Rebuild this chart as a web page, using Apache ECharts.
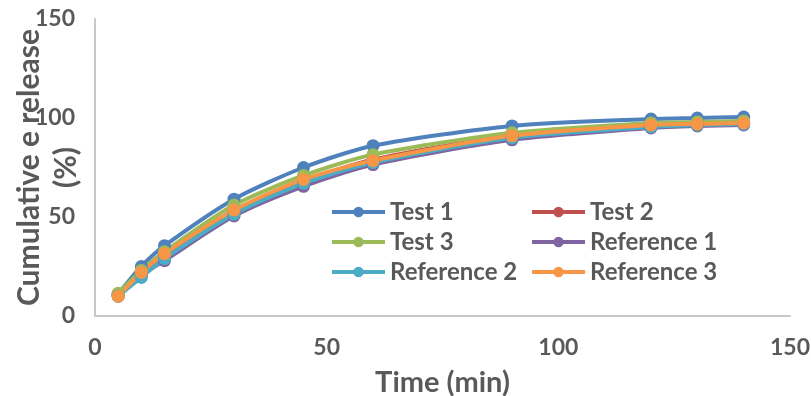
<!DOCTYPE html>
<html>
<head>
<meta charset="utf-8">
<script src="https://cdn.jsdelivr.net/npm/echarts@6/dist/echarts.min.js"></script>
<style>
  html, body { margin: 0; padding: 0; background: #fff; }
  #chart { width: 811px; height: 396px; }
</style>
</head>
<body>
<div id="chart"></div>
<script>
  // time points (min)
  var times = [5, 10, 15, 30, 45, 60, 90, 120, 130, 140];

  // cumulative release (%)
  var test1 = [11, 25, 35.5, 59, 75, 86, 96, 99.5, 100, 100.5];
  var test2 = [10.5, 22, 31, 53, 68, 79, 91, 96, 97, 97.5];
  var test3 = [11.5, 23, 32.5, 56, 71, 81.5, 92.5, 97.5, 98, 98.5];
  var ref1 = [10, 20.5, 28, 50.5, 65.5, 76.5, 89, 95, 96, 96.5];
  var ref2 = [10, 19.5, 29, 51.5, 67, 77.5, 90, 95.5, 96.5, 97];
  var ref3 = [10, 22, 31.5, 53.5, 69, 78.5, 91, 96.5, 97, 97.5];

  var xTicks = [0, 50, 100, 150];
  var yTicks = [0, 50, 100, 150];

  var names = ['Test 1', 'Test 2', 'Test 3', 'Reference 1', 'Reference 2', 'Reference 3'];
  var colors = ['#4F81BD', '#C0504D', '#9BBB59', '#8064A2', '#4BACC6', '#F79646'];
  var values = [test1, test2, test3, ref1, ref2, ref3];

  var font = 'Lato, "Open Sans", sans-serif';
  var grey = '#595959';

  function pairs(ys) {
    return times.map(function (t, i) { return [t, ys[i]]; });
  }

  var series = names.map(function (n, i) {
    return {
      name: n,
      type: 'line',
      data: pairs(values[i]),
      smooth: 0.25,
      symbol: 'circle',
      symbolSize: 13,
      lineStyle: { width: 4, color: colors[i] },
      itemStyle: { color: colors[i] },
      emphasis: { disabled: true }
    };
  });

  var legendText = { fontFamily: font, fontSize: 24, fontWeight: 'bold', color: grey, lineHeight: 30 };
  function legendCol(items, left) {
    return {
      data: items,
      orient: 'vertical', left: left, top: 197, padding: 0,
      itemWidth: 53, itemHeight: 13, itemGap: 0,
      lineStyle: { width: 4 },
      textStyle: legendText
    };
  }

  var chart = echarts.init(document.getElementById('chart'));
  chart.setOption({
    animation: false,
    color: colors,
    grid: { left: 95, right: 21, top: 19, bottom: 80, outerBoundsMode: 'none' },
    legend: [
      legendCol(['Test 1', 'Test 3', 'Reference 2'], 330),
      legendCol(['Test 2', 'Reference 1', 'Reference 3'], 530)
    ],
    xAxis: {
      type: 'value',
      min: xTicks[0], max: xTicks[xTicks.length - 1], interval: 50,
      name: 'Time (min)',
      nameLocation: 'middle', nameGap: 52, nameMoveOverlap: false,
      nameTextStyle: { fontFamily: font, fontSize: 29, fontWeight: 'bold', color: grey },
      axisLine: { lineStyle: { color: '#C8C8C8', width: 2 } },
      axisTick: { show: false },
      splitLine: { show: false },
      axisLabel: { margin: 20, fontFamily: font, fontSize: 23, fontWeight: 'bold', color: grey }
    },
    yAxis: {
      type: 'value',
      min: yTicks[0], max: yTicks[yTicks.length - 1], interval: 50,
      name: 'Cumulative e release\n(%)',
      nameLocation: 'middle', nameGap: 10, nameMoveOverlap: false,
      nameTextStyle: { fontFamily: font, fontSize: 30, fontWeight: 'bold', color: grey, lineHeight: 37 },
      axisLine: { show: true, lineStyle: { color: '#C8C8C8', width: 2 } },
      axisTick: { show: false },
      splitLine: { show: false },
      axisLabel: { margin: 20, fontFamily: font, fontSize: 23, fontWeight: 'bold', color: grey }
    },
    series: series
  });
</script>
</body>
</html>
